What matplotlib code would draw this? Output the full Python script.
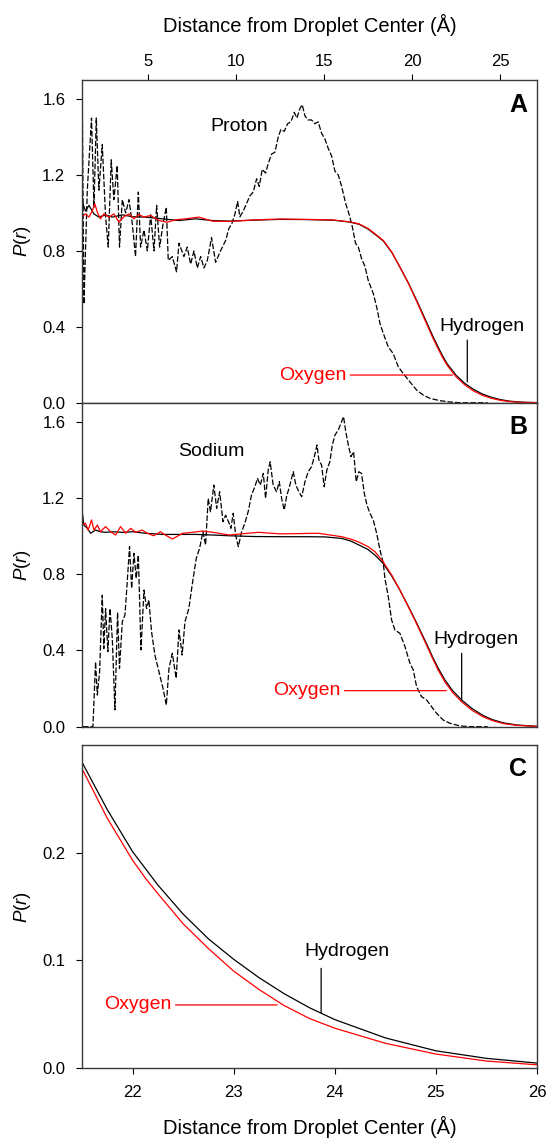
import matplotlib
matplotlib.use('Agg')
import matplotlib.pyplot as plt

plt.rcParams['font.family'] = ['Liberation Sans', 'DejaVu Sans']
plt.rcParams['mathtext.fontset'] = 'custom'
plt.rcParams['mathtext.rm'] = 'Liberation Sans'
plt.rcParams['mathtext.it'] = 'Liberation Sans:italic'

# ---- panel A: proton (dashed) ----
proton_x = [1.26, 1.36, 1.55, 1.79, 1.93, 2.06, 2.21, 2.40, 2.59, 2.74, 2.91, 3.06, 3.25, 3.38,
            3.54, 3.73, 3.92, 4.11, 4.29, 4.45, 4.58, 4.77, 4.96, 5.15, 5.34, 5.49, 5.66, 5.85,
            6.04, 6.15, 6.38, 6.62, 6.76, 7.04, 7.23, 7.42, 7.61, 7.80, 7.99, 8.18, 8.37, 8.61,
            8.84, 9.12, 9.41, 9.60, 9.75, 9.94, 10.09, 10.22, 10.41, 10.60, 10.79, 10.98, 11.17,
            11.32, 11.49, 11.68, 11.83, 12.02, 12.21, 12.40, 12.55, 12.74, 12.93, 13.12, 13.31,
            13.46, 13.63, 13.76, 13.92, 14.10, 14.29, 14.48, 14.67, 14.86, 15.05, 15.24, 15.43,
            15.62, 15.81, 16.00, 16.23, 16.42, 16.60, 16.79, 16.95, 17.13, 17.32, 17.51, 17.80,
            17.99, 18.18, 18.37, 18.65, 18.93, 19.22, 19.50, 19.88, 20.26, 20.64, 21.02, 21.59,
            22.15, 22.72, 23.50, 24.30]
proton_y = [1.64, 0.52, 1.12, 1.50, 1.03, 1.50, 1.12, 1.36, 0.98, 0.82, 1.28, 1.07, 1.25, 0.82,
            1.07, 1.00, 1.07, 0.94, 0.77, 1.11, 0.82, 0.91, 0.80, 0.99, 0.80, 1.04, 0.82, 0.94,
            1.03, 0.75, 0.77, 0.69, 0.84, 0.77, 0.82, 0.73, 0.80, 0.71, 0.77, 0.71, 0.75, 0.87,
            0.74, 0.80, 0.855, 0.92, 0.94, 0.995, 1.06, 0.98, 1.01, 1.05, 1.09, 1.11, 1.18,
            1.14, 1.23, 1.21, 1.26, 1.31, 1.32, 1.40, 1.44, 1.43, 1.47, 1.48, 1.53,
            1.50, 1.55, 1.57, 1.51, 1.49, 1.49, 1.47, 1.48, 1.42, 1.39, 1.34, 1.30,
            1.22, 1.20, 1.14, 1.05, 0.995, 0.93, 0.84, 0.82, 0.76, 0.72, 0.645, 0.575,
            0.505, 0.417, 0.365, 0.294, 0.259, 0.189, 0.154, 0.11, 0.067, 0.040, 0.023, 0.011,
            0.004, 0.0, 0.0, 0.0]

# ---- panel A: hydrogen / oxygen ----
hA_x = [1.26, 1.45, 1.64, 1.93, 2.21, 2.59, 2.97, 3.54, 4.11, 4.86, 5.81, 6.76, 7.70, 8.65,
        9.60, 11.0, 12.5, 14.0, 15.5, 16.47, 17.0, 17.5, 17.9, 18.37, 18.85, 19.31, 19.8,
        20.26, 20.75, 21.21, 21.5, 21.75, 22.0, 22.5, 23.0, 23.5, 24.0, 24.5, 25.0, 25.5,
        26.0, 26.5, 27.1]
hA_y = [1.06, 1.01, 1.04, 0.995, 0.978, 0.99, 0.978, 0.99, 0.98, 0.978, 0.969, 0.96, 0.969,
        0.96, 0.957, 0.962, 0.966, 0.965, 0.962, 0.952, 0.94, 0.915, 0.887, 0.852, 0.792,
        0.715, 0.63, 0.54, 0.44, 0.345, 0.29, 0.245, 0.205, 0.145, 0.102, 0.07, 0.046,
        0.029, 0.017, 0.009, 0.0045, 0.002, 0.001]
oA_x = [1.26, 1.45, 1.64, 1.83, 1.98, 2.12, 2.30, 2.49, 2.78, 3.06, 3.35, 3.63, 3.92, 4.20,
        4.48, 4.77, 5.15, 5.62, 6.09, 6.56, 7.13, 7.89, 8.65, 9.60, 11.0, 12.5, 14.0, 15.5,
        16.47, 17.0, 17.5, 17.9, 18.37, 18.85, 19.31, 19.8, 20.26, 20.75, 21.21, 21.5, 21.75,
        22.0, 22.5, 23.0, 23.5, 24.0, 24.5, 25.0, 25.5, 26.0, 26.5, 27.1]
oA_y = [0.98, 0.995, 0.978, 1.01, 1.048, 1.004, 0.969, 0.995, 0.978, 0.995, 0.951, 0.98, 0.995,
        0.969, 0.992, 0.978, 0.987, 0.96, 0.951, 0.964, 0.969, 0.978, 0.957, 0.955, 0.963,
        0.968, 0.966, 0.963, 0.953, 0.942, 0.918, 0.89, 0.855, 0.794, 0.715, 0.628, 0.535,
        0.432, 0.336, 0.281, 0.236, 0.197, 0.137, 0.094, 0.062, 0.039, 0.024, 0.013, 0.0065,
        0.003, 0.0015, 0.0005]

# ---- panel B: sodium (dashed) ----
sodium_x = [1.30, 1.87, 2.02, 2.12, 2.25, 2.40, 2.49, 2.59, 2.72, 2.84, 2.97, 3.12, 3.27, 3.38,
            3.54, 3.69, 3.82, 3.95, 4.07, 4.20, 4.33, 4.45, 4.60, 4.77, 4.92, 5.05, 5.20, 5.39,
            5.62, 5.85, 6.04, 6.19, 6.38, 6.60, 6.76, 6.94, 7.10, 7.32, 7.51, 7.74, 7.93, 8.12,
            8.27, 8.42, 8.55, 8.74, 8.90, 9.07, 9.26, 9.41, 9.60, 9.71, 9.84, 9.98, 10.13,
            10.32, 10.50, 10.69, 10.88, 11.07, 11.22, 11.38, 11.55, 11.68, 11.83, 11.94, 12.11,
            12.30, 12.46, 12.59, 12.74, 12.87, 13.06, 13.25, 13.40, 13.57, 13.73, 13.92, 14.10,
            14.29, 14.45, 14.60, 14.71, 14.86, 15.01, 15.16, 15.33, 15.47, 15.62, 15.81, 15.96,
            16.11, 16.22, 16.38, 16.53, 16.68, 16.83, 16.98, 17.13, 17.29, 17.44, 17.61, 17.80,
            17.99, 18.18, 18.37, 18.46, 18.65, 18.84, 19.03, 19.31, 19.60, 19.88, 20.07, 20.26,
            20.54, 20.83, 21.11, 21.40, 21.77, 22.15, 22.72, 23.29, 24.30]
sodium_y = [0.0, 0.0, 0.34, 0.166, 0.289, 0.69, 0.41, 0.62, 0.394, 0.62, 0.464, 0.088, 0.60,
            0.306, 0.551, 0.586, 0.761, 0.945, 0.726, 0.91, 0.778, 0.901, 0.403, 0.717, 0.62,
            0.665, 0.499, 0.376, 0.289, 0.202, 0.114, 0.306, 0.385, 0.254, 0.508, 0.376, 0.551,
            0.62, 0.744, 0.883, 0.936, 1.023, 0.953, 1.198, 1.128, 1.268, 1.146, 1.233, 1.076,
            1.11, 1.07, 1.041, 1.12, 1.006, 0.945, 1.023, 1.067, 1.128, 1.216, 1.259, 1.303,
            1.268, 1.329, 1.198, 1.347, 1.39, 1.268, 1.233, 1.286, 1.198, 1.137, 1.207, 1.268,
            1.338, 1.268, 1.233, 1.207, 1.286, 1.338, 1.364, 1.417, 1.478, 1.399, 1.373, 1.259,
            1.347, 1.39, 1.478, 1.53, 1.557, 1.592, 1.627, 1.557, 1.478, 1.417, 1.443, 1.286,
            1.338, 1.329, 1.224, 1.163, 1.12, 1.084, 1.015, 0.927, 0.857, 0.778, 0.682, 0.56,
            0.507, 0.49, 0.42, 0.333, 0.298, 0.21, 0.158, 0.14, 0.105, 0.07, 0.035, 0.018,
            0.004, 0.0, 0.0]

# ---- panel B: hydrogen / oxygen ----
hB_x = [1.26, 1.36, 1.55, 1.74, 2.02, 2.30, 2.59, 2.97, 3.54, 4.11, 4.86, 5.81, 6.76, 7.70,
        8.65, 9.60, 11.0, 12.5, 14.0, 15.05, 16.0, 16.5, 16.95, 17.5, 17.9, 18.36, 18.85,
        19.31, 19.8, 20.26, 20.75, 21.2, 21.5, 21.87, 22.3, 22.82, 23.4, 24.05, 24.6, 25.2,
        25.94, 27.1]
hB_y = [1.128, 1.058, 1.041, 1.015, 1.032, 1.023, 1.02, 1.023, 1.02, 1.023, 1.015, 1.009,
        1.009, 1.009, 1.006, 1.002, 0.998, 0.997, 0.997, 0.996, 0.988, 0.975, 0.955, 0.93,
        0.9, 0.857, 0.79, 0.717, 0.63, 0.545, 0.45, 0.36, 0.305, 0.245, 0.19, 0.14, 0.096,
        0.058, 0.036, 0.02, 0.009, 0.002]
oB_x = [1.26, 1.45, 1.60, 1.79, 1.93, 2.12, 2.30, 2.59, 2.87, 3.16, 3.44, 3.73, 4.01, 4.30,
        4.67, 4.96, 5.33, 5.71, 5.98, 6.39, 6.97, 7.52, 8.11, 8.69, 9.60, 11.26, 12.5, 14.67,
        16.0, 16.5, 16.95, 17.5, 17.9, 18.36, 18.85, 19.31, 19.8, 20.26, 20.75, 21.2, 21.5,
        21.87, 22.3, 22.82, 23.4, 24.05, 24.6, 25.2, 25.94, 27.1]
oB_y = [1.058, 1.067, 1.032, 1.085, 1.032, 1.058, 1.023, 1.05, 1.023, 1.006, 1.05, 1.015,
        1.041, 1.02, 1.032, 1.015, 1.002, 1.023, 1.006, 0.985, 1.015, 1.02, 1.027, 1.02,
        1.006, 1.02, 1.012, 1.015, 0.997, 0.985, 0.97, 0.945, 0.918, 0.865, 0.795, 0.717,
        0.627, 0.54, 0.443, 0.352, 0.295, 0.235, 0.18, 0.13, 0.087, 0.051, 0.031, 0.016,
        0.007, 0.001]

# ---- panel C: close-up of the tail ----
hC_x = [21.5, 21.75, 22.0, 22.25, 22.5, 22.75, 23.0, 23.25, 23.5, 23.75, 24.0, 24.5, 25.0,
        25.5, 26.0]
hC_y = [0.284, 0.240, 0.201, 0.170, 0.143, 0.120, 0.101, 0.084, 0.069, 0.056, 0.045, 0.028,
        0.016, 0.009, 0.0046]
oC_x = [21.5, 21.75, 22.0, 22.13, 22.25, 22.5, 22.75, 23.0, 23.25, 23.5, 23.75, 24.0, 24.5,
        25.0, 25.5, 26.0]
oC_y = [0.278, 0.232, 0.193, 0.176, 0.162, 0.134, 0.111, 0.090, 0.073, 0.058, 0.046, 0.037,
        0.023, 0.013, 0.0065, 0.003]

xlabel = 'Distance from Droplet Center (Å)'
dash = (0, (4.5, 1.6))


def style(ax, ymax, yticks):
    for s in ax.spines.values():
        s.set_color('#3a3a3a')
        s.set_linewidth(1.0)
    ax.set_ylim(0, ymax)
    ax.set_yticks(yticks)
    ax.yaxis.set_major_formatter(matplotlib.ticker.FormatStrFormatter('%.1f'))
    ax.tick_params(axis='y', direction='out', length=4, width=0.8, labelsize=12, pad=8)
    ax.set_ylabel(r'$P(r)$', fontsize=13.5)
    ax.yaxis.set_label_coords(-0.108, 0.5)


fig = plt.figure(figsize=(5.46, 11.39), dpi=100)
axA = fig.add_axes([0.1502, 0.6464, 0.8333, 0.2833])
axB = fig.add_axes([0.1502, 0.3620, 0.8333, 0.2844])
axC = fig.add_axes([0.1502, 0.0623, 0.8333, 0.2836])

# panel A
axA.plot(proton_x, proton_y, color='black', lw=0.9, linestyle=dash)
axA.plot(hA_x, hA_y, color='black', lw=0.9)
axA.plot(oA_x, oA_y, color='red', lw=0.9)
style(axA, 1.7, [0.0, 0.4, 0.8, 1.2, 1.6])
axA.set_xlim(1.25, 27.1)
axA.xaxis.tick_top()
axA.xaxis.set_label_position('top')
axA.set_xticks([5, 10, 15, 20, 25])
axA.tick_params(axis='x', direction='out', length=4, width=0.8, labelsize=12, pad=4)
axA.set_xlabel(xlabel, fontsize=14.5, labelpad=16)
axA.text(10.2, 1.454, 'Proton', fontsize=14, ha='center', va='center')
axA.text(0.978, 0.922, 'A', transform=axA.transAxes, fontsize=18, fontweight='bold',
         ha='right', va='center')
axA.text(23.97, 0.40, 'Hydrogen', fontsize=14, ha='center', va='center')
axA.annotate('', xy=(23.14, 0.11), xytext=(23.14, 0.33),
             arrowprops=dict(arrowstyle='-', lw=0.9, color='black', shrinkA=0, shrinkB=0))
axA.annotate('Oxygen', xy=(22.3, 0.146), xytext=(14.34, 0.146), color='red', fontsize=14,
             ha='center', va='center',
             arrowprops=dict(arrowstyle='-', lw=0.9, color='red', shrinkA=1, shrinkB=0))

# panel B
axB.plot(sodium_x, sodium_y, color='black', lw=0.9, linestyle=dash)
axB.plot(hB_x, hB_y, color='black', lw=0.9)
axB.plot(oB_x, oB_y, color='red', lw=0.9)
style(axB, 1.7, [0.0, 0.4, 0.8, 1.2, 1.6])
axB.set_xlim(1.25, 27.1)
axB.tick_params(axis='x', bottom=False, labelbottom=False)
axB.text(8.61, 1.443, 'Sodium', fontsize=14, ha='center', va='center')
axB.text(0.978, 0.926, 'B', transform=axB.transAxes, fontsize=18, fontweight='bold',
         ha='right', va='center')
axB.text(23.65, 0.455, 'Hydrogen', fontsize=14, ha='center', va='center')
axB.annotate('', xy=(22.82, 0.14), xytext=(22.82, 0.385),
             arrowprops=dict(arrowstyle='-', lw=0.9, color='black', shrinkA=0, shrinkB=0))
axB.annotate('Oxygen', xy=(21.95, 0.189), xytext=(14.01, 0.189), color='red', fontsize=14,
             ha='center', va='center',
             arrowprops=dict(arrowstyle='-', lw=0.9, color='red', shrinkA=1, shrinkB=0))

# panel C
axC.plot(hC_x, hC_y, color='black', lw=0.9)
axC.plot(oC_x, oC_y, color='red', lw=0.9)
style(axC, 0.3, [0.0, 0.1, 0.2])
axC.set_xlim(21.5, 26)
axC.set_xticks([22, 23, 24, 25, 26])
axC.tick_params(axis='x', direction='out', length=4, width=0.8, labelsize=12, pad=8)
axC.set_xlabel(xlabel, fontsize=14.5, labelpad=12)
axC.text(0.978, 0.926, 'C', transform=axC.transAxes, fontsize=18, fontweight='bold',
         ha='right', va='center')
axC.text(24.12, 0.108, 'Hydrogen', fontsize=14, ha='center', va='center')
axC.annotate('', xy=(23.865, 0.051), xytext=(23.865, 0.0926),
             arrowprops=dict(arrowstyle='-', lw=0.9, color='black', shrinkA=0, shrinkB=0))
axC.annotate('Oxygen', xy=(23.43, 0.0586), xytext=(22.05, 0.0586), color='red', fontsize=14,
             ha='center', va='center',
             arrowprops=dict(arrowstyle='-', lw=0.9, color='red', shrinkA=1, shrinkB=0))

fig.savefig('out.png', dpi=100)
